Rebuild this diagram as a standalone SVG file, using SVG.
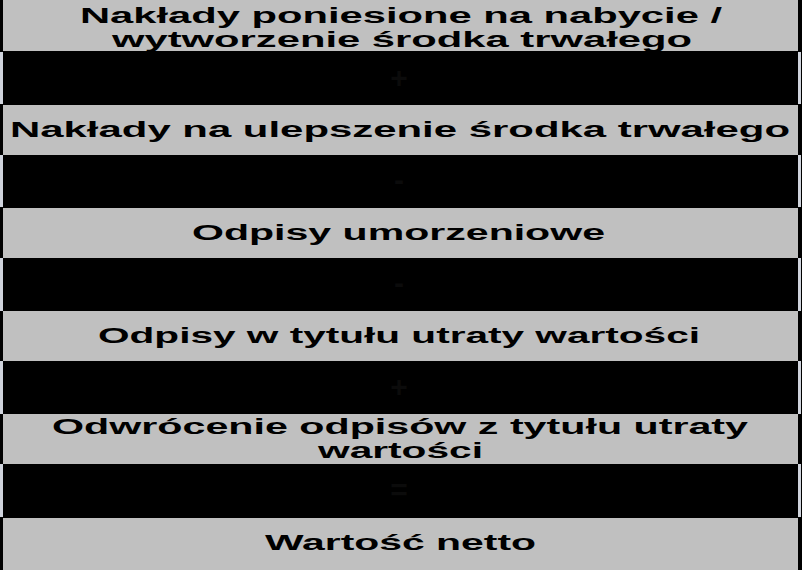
<svg xmlns="http://www.w3.org/2000/svg" width="802" height="570" viewBox="0 0 802 570">
<style>
.g{fill:#c0c0c0;}
.b{fill:#000;}
.edge{fill:#cfd3dc;}
.t{font-family:"Liberation Sans",Arial,sans-serif;font-weight:bold;font-size:22px;fill:#000;text-anchor:start;}
.op{font-family:"Liberation Sans",Arial,sans-serif;font-weight:bold;font-size:30px;fill:#0b0b0b;text-anchor:middle;}
</style>
<rect x="0" y="0" width="802" height="570" fill="#000"/>
<g id="node-naklady">
<rect class="g" x="3" y="0" width="795" height="51"/>
<text class="t" x="80" y="23" textLength="642" lengthAdjust="spacingAndGlyphs">Nakłady poniesione na nabycie /</text>
<text class="t" x="112" y="47" textLength="580" lengthAdjust="spacingAndGlyphs">wytworzenie środka trwałego</text>
</g>
<g id="op1">
<rect class="b" x="3" y="52" width="795" height="52"/>
<rect class="edge" x="0" y="52" width="3" height="52"/>
<rect class="edge" x="798" y="52" width="3" height="52"/>
<text class="op" x="399" y="88">+</text>
</g>
<g id="node-ulepszenie">
<rect class="g" x="3" y="105" width="795" height="50"/>
<text class="t" x="10" y="137" textLength="780" lengthAdjust="spacingAndGlyphs">Nakłady na ulepszenie środka trwałego</text>
</g>
<g id="op2">
<rect class="edge" x="0" y="155" width="3" height="52"/>
<rect class="edge" x="798" y="155" width="3" height="52"/>
<text class="op" x="399" y="190">-</text>
</g>
<g id="node-umorzenie">
<rect class="g" x="3" y="208" width="795" height="50"/>
<text class="t" x="192" y="240" textLength="413" lengthAdjust="spacingAndGlyphs">Odpisy umorzeniowe</text>
</g>
<g id="op3">
<rect class="edge" x="0" y="258" width="3" height="53"/>
<rect class="edge" x="798" y="258" width="3" height="53"/>
<text class="op" x="399" y="293">-</text>
</g>
<g id="node-utrata">
<rect class="g" x="3" y="311" width="795" height="50"/>
<text class="t" x="98" y="343" textLength="602" lengthAdjust="spacingAndGlyphs">Odpisy w tytułu utraty wartości</text>
</g>
<g id="op4">
<rect class="edge" x="0" y="361" width="3" height="53"/>
<rect class="edge" x="798" y="361" width="3" height="53"/>
<text class="op" x="399" y="397">+</text>
</g>
<g id="node-odwrocenie">
<rect class="g" x="3" y="414" width="795" height="50"/>
<text class="t" x="52" y="434" textLength="696" lengthAdjust="spacingAndGlyphs">Odwrócenie odpisów z tytułu utraty</text>
<text class="t" x="318" y="458" textLength="165" lengthAdjust="spacingAndGlyphs">wartości</text>
</g>
<g id="op5">
<rect class="edge" x="0" y="464" width="3" height="53"/>
<rect class="edge" x="798" y="464" width="3" height="53"/>
<text class="op" x="399" y="500">=</text>
</g>
<g id="node-netto">
<rect class="g" x="3" y="518" width="795" height="52"/>
<text class="t" x="265" y="550" textLength="271" lengthAdjust="spacingAndGlyphs">Wartość netto</text>
</g>
<g id="connectors"></g>
</svg>
